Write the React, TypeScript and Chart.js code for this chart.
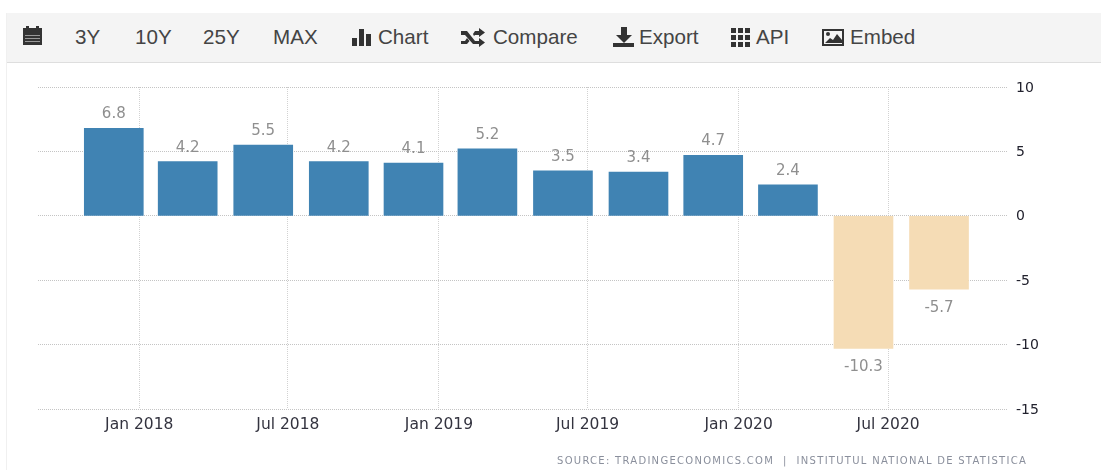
import React, { useEffect, useRef } from "react";
import { Chart, registerables } from "chart.js";

Chart.register(...registerables);

const barDates = [
  "2017-12-01", "2018-03-01", "2018-06-01", "2018-09-01", "2018-12-01", "2019-03-01",
  "2019-06-01", "2019-09-01", "2019-12-01", "2020-03-01", "2020-06-01", "2020-09-01",
];
const gdpValues = [6.8, 4.2, 5.5, 4.2, 4.1, 5.2, 3.5, 3.4, 4.7, 2.4, -10.3, -5.7];
const tickDates = ["2018-01-01", "2018-07-01", "2019-01-01", "2019-07-01", "2020-01-01", "2020-07-01"];
const tickLabels = ["Jan 2018", "Jul 2018", "Jan 2019", "Jul 2019", "Jan 2020", "Jul 2020"];
const yTicks = [10, 5, 0, -5, -10, -15];
const sourceText = "SOURCE: TRADINGECONOMICS.COM  |  INSTITUTUL NATIONAL DE STATISTICA";

const AXIS_FONT = "'DejaVu Sans', sans-serif";
const dayOf = (s: string) => Date.parse(s) / 86400000;
const tickDays = tickDates.map(dayOf);
const xMin = dayOf("2017-08-31") - 0.3;
const xMax = dayOf("2020-11-24");

const toolbarItems: { label: string; left: number; icon?: string; iconLeft?: number }[] = [
  { label: "", left: 0, icon: "calendar", iconLeft: 22 },
  { label: "3Y", left: 75 },
  { label: "10Y", left: 135 },
  { label: "25Y", left: 203 },
  { label: "MAX", left: 273 },
  { label: "Chart", left: 378, icon: "bars", iconLeft: 352 },
  { label: "Compare", left: 493, icon: "shuffle", iconLeft: 461 },
  { label: "Export", left: 639, icon: "download", iconLeft: 613 },
  { label: "API", left: 756, icon: "grid", iconLeft: 731 },
  { label: "Embed", left: 850, icon: "image", iconLeft: 822 },
];

function Icon({ name, left }: { name: string; left: number }) {
  const c = "#333";
  const shapes: Record<string, React.ReactNode> = {
    calendar: (
      <>
        <rect x="4" y="0" width="3" height="3" fill={c} />
        <rect x="14" y="0" width="3" height="3" fill={c} />
        <rect x="1" y="2" width="19" height="17" fill={c} />
        <rect x="3" y="9" width="15" height="1" fill="#999" />
        <rect x="3" y="12" width="15" height="1" fill="#999" />
        <rect x="3" y="15" width="15" height="1" fill="#999" />
      </>
    ),
    bars: (
      <>
        <rect x="0" y="12" width="5" height="8" fill={c} />
        <rect x="7" y="3" width="5" height="17" fill={c} />
        <rect x="14" y="8" width="5" height="12" fill={c} />
      </>
    ),
    shuffle: (
      <path
        d="M0 5h6l8 10h4v-3l6 4.500-6 4.500v-3h-6L4 9H0zM0 15h4l2-3 2.500 3-2.500 3H0zM12 8l2-3h4V2l6 4.500-6 4.500V9h-4l-1 1z"
        fill={c}
      />
    ),
    download: (
      <>
        <path d="M8 1h6v8h5l-8 8-8-8h5z" fill={c} />
        <rect x="0" y="17" width="21" height="4" fill={c} />
      </>
    ),
    grid: (
      <>
        {[2, 9, 16].map((y) =>
          [0, 7, 14].map((x) => <rect key={`${x}-${y}`} x={x} y={y} width="5" height="5" fill={c} />)
        )}
      </>
    ),
    image: (
      <>
        <path d="M0 3h22v17H0z M2 5v13h18V5z" fill={c} fillRule="evenodd" />
        <circle cx="6" cy="8" r="2" fill={c} />
        <path d="M3 17l5-5 3 2 4-6 5 6v3z" fill={c} />
      </>
    ),
  };
  return (
    <svg width="26" height="24" style={{ position: "absolute", left, top: 26, overflow: "visible" }}>
      {shapes[name]}
    </svg>
  );
}

export default function App() {
  const ref = useRef<HTMLCanvasElement>(null);

  useEffect(() => {
    const labelPlugin = {
      id: "valueLabels",
      afterDatasetsDraw(chart: any) {
        const { ctx } = chart;
        const meta = chart.getDatasetMeta(0);
        ctx.save();
        ctx.font = `15px ${AXIS_FONT}`;
        ctx.fillStyle = "#8f8f8f";
        ctx.textAlign = "center";
        ctx.textBaseline = "middle";
        meta.data.forEach((bar: any, i: number) => {
          const v = gdpValues[i];
          const y = v >= 0 ? bar.y - 14 : bar.y + 19;
          ctx.fillText(v.toFixed(1), bar.x, y);
        });
        ctx.restore();
      },
    };

    const chart = new Chart(ref.current as HTMLCanvasElement, {
      type: "bar",
      data: {
        datasets: [
          {
            data: barDates.map((d, i) => ({ x: dayOf(d), y: gdpValues[i] })),
            backgroundColor: gdpValues.map((v) => (v >= 0 ? "#4083b3" : "#f5dcb5")),
            barThickness: 59,
            borderWidth: 0,
          },
        ],
      },
      options: {
        responsive: false,
        animation: false,
        events: [],
        layout: { padding: { top: 87, left: 38, right: 0, bottom: 0 } },
        plugins: { legend: { display: false }, tooltip: { enabled: false } },
        scales: {
          x: {
            type: "linear",
            offset: false,
            min: xMin,
            max: xMax,
            afterBuildTicks(axis: any) {
              axis.ticks = tickDays.map((value) => ({ value }));
            },
            afterFit(axis: any) {
              axis.height = 61;
            },
            border: { display: false, dash: [1, 1] },
            grid: { offset: false, color: "#d2d2d2", lineWidth: 1, drawTicks: false },
            ticks: {
              autoSkip: false,
              maxRotation: 0,
              padding: 7,
              color: "#33333f",
              font: { family: AXIS_FONT, size: 15.5 },
              callback(value: any) {
                const idx = tickDays.indexOf(Number(value));
                return idx >= 0 ? tickLabels[idx] : "";
              },
            },
          },
          y: {
            position: "right",
            min: -15,
            max: 10,
            afterBuildTicks(axis: any) {
              axis.ticks = yTicks.map((value) => ({ value }));
            },
            afterFit(axis: any) {
              axis.width = 93;
            },
            border: { display: false, dash: [1, 1] },
            grid: { color: "#c4c4c4", lineWidth: 1, drawTicks: false },
            ticks: {
              padding: 8,
              labelOffset: 1,
              color: "#22222e",
              font: { family: AXIS_FONT, size: 14 },
            },
          },
        },
      },
      plugins: [labelPlugin],
    } as any);
    return () => chart.destroy();
  }, []);

  return (
    <div style={{ position: "absolute", left: 0, top: 0, width: 1101, height: 470, background: "#fff", overflow: "hidden" }}>
      <canvas ref={ref} width={1101} height={470} style={{ position: "absolute", left: 0, top: 0, display: "block" }} />
      <div style={{ position: "absolute", left: 6, top: 13, width: 1, height: 457, background: "#f0f0f0" }} />
      <div
        style={{
          position: "absolute",
          left: 7,
          top: 13,
          width: 1094,
          height: 49,
          background: "#f4f4f4",
          borderBottom: "1px solid #dedede",
        }}
      />
      {toolbarItems.map((it, i) => (
        <React.Fragment key={i}>
          {it.icon ? <Icon name={it.icon} left={it.iconLeft as number} /> : null}
          {it.label ? (
            <span
              style={{
                position: "absolute",
                left: it.left,
                top: 25,
                fontFamily: "'Liberation Sans', Arial, sans-serif",
                fontSize: 20.6,
                lineHeight: "24px",
                color: "#444",
              }}
            >
              {it.label}
            </span>
          ) : null}
        </React.Fragment>
      ))}
      <div
        style={{
          position: "absolute",
          left: 557,
          top: 454,
          fontFamily: AXIS_FONT,
          fontSize: 10,
          lineHeight: "14px",
          letterSpacing: 1.28,
          color: "#8a8f9c",
          whiteSpace: "pre",
        }}
      >
        {sourceText}
      </div>
    </div>
  );
}
